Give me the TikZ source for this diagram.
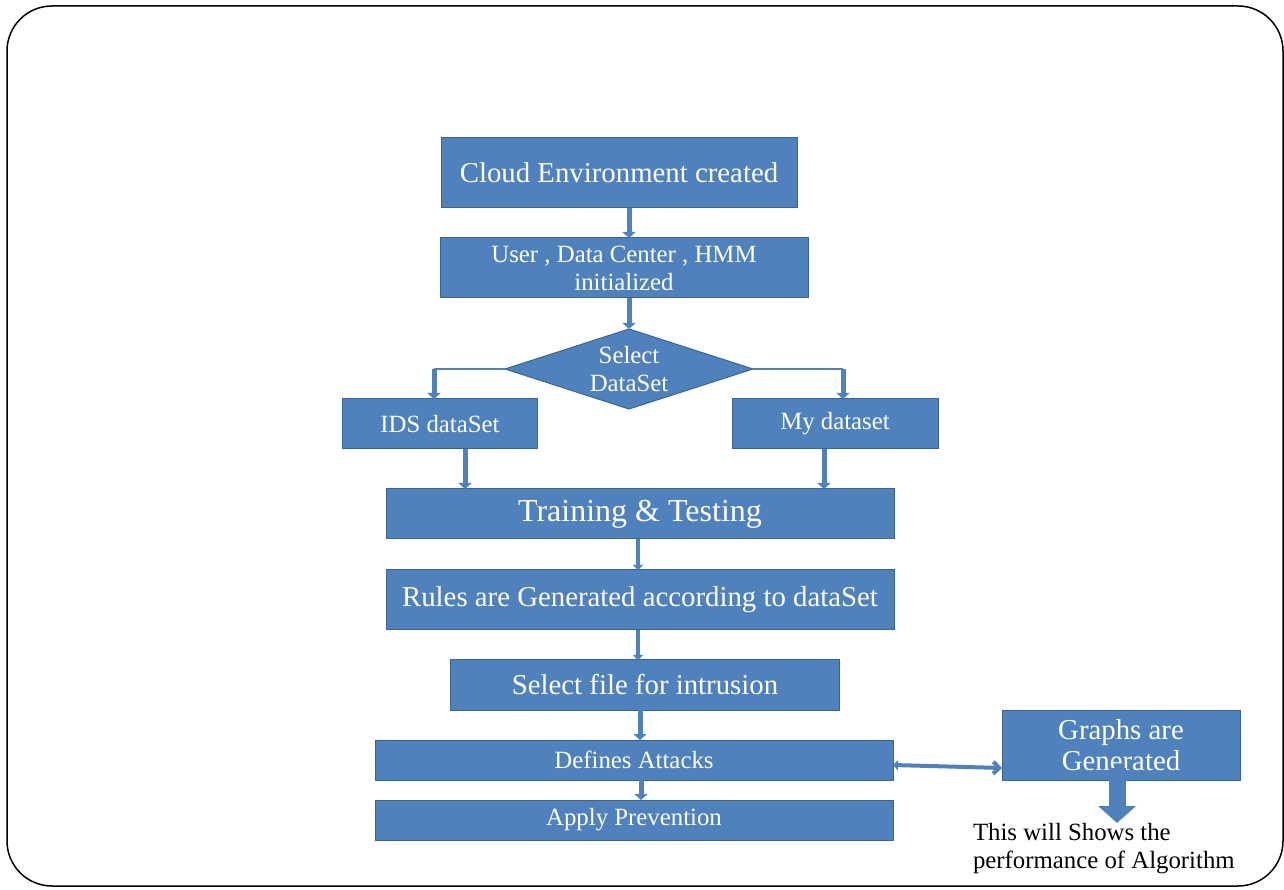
\documentclass[tikz,border=0pt]{standalone}
\usepackage{fontspec}
\setmainfont{Liberation Serif}
\usetikzlibrary{positioning, shapes.geometric, arrows.meta}

\definecolor{boxfill}{HTML}{4F81BD}
\definecolor{boxline}{HTML}{3A6494}

\tikzset{
	box/.style={draw=boxline, line width=1pt, fill=boxfill, text=white, inner sep=0pt, outer sep=0pt, align=center},
	small/.style={font=\fontsize{24.8}{28}\selectfont},
	medium/.style={font=\fontsize{28.8}{31}\selectfont},
	flow/.style={draw=boxfill, line width=5pt, -{Triangle[length=6pt,width=13pt]}},
	thinflow/.style={draw=boxfill, line width=3.5pt, -{Triangle[length=5pt,width=10pt]}},
	bigflow/.style={draw=boxfill, line width=17pt, -{Triangle[length=17pt,width=37pt]}},
	link/.style={draw=boxfill, line width=1.5pt}
}

\begin{document}
\begin{tikzpicture}[x=1pt, y=1pt]
		  \useasboundingbox (0,0) rectangle (1284,889);
		  \draw[line width=1.5pt, rounded corners=45pt] (7,3) rectangle (1283,883);

          \node (1) [box, medium, minimum width=356pt, minimum height=70pt] at (619,716) {Cloud Environment created};
          \node (2) [box, small, minimum width=368pt, minimum height=60pt, below=30pt of 1, xshift=5pt] {User , Data Center , HMM\\initialized};
          \node (3) [box, small, diamond, aspect=3.1, minimum width=248pt, minimum height=80pt, below=31pt of 2, xshift=5pt] {Select\\DataSet};
          \node (4) [box, small, minimum width=195pt, minimum height=50pt, below=-10pt of 3, xshift=-189pt] {IDS dataSet};
          \node (5) [box, small, minimum width=206pt, minimum height=50pt, below=-10pt of 3, xshift=206pt] {My dataset};
          \node (6) [box, font=\fontsize{32}{36}\selectfont, minimum width=508pt, minimum height=50pt, below=80pt of 3, xshift=11pt] {Training \& Testing};
          \node (7) [box, medium, minimum width=508pt, minimum height=60pt, below=31pt of 6] {Rules are Generated according to dataSet};
          \node (8) [box, medium, minimum width=389pt, minimum height=50pt, below=30pt of 7, xshift=5pt] {Select file for intrusion};
		  \node (9) [box, small, minimum width=518pt, minimum height=40pt, below=30pt of 8, xshift=-11pt] {Defines Attacks};
		  \node (10) [box, small, minimum width=518pt, minimum height=40pt, below=20pt of 9] {Apply Prevention};
		  \node (11) [box, medium, minimum width=238pt, minimum height=70pt, right=109pt of 9, yshift=15pt] {Graphs are\\Generated};
		  \node (12) [small, align=left, inner sep=0pt, outer sep=0pt, below right=43pt and -29pt of 11.south west] {This will Shows the\\performance of Algorithm};

		  \coordinate (a) at ([xshift=-6pt]4.north);
		  \coordinate (b) at ([xshift=8pt]5.north);

		  \path[every edge/.style=flow]
			([xshift=10pt]1.south) edge ([xshift=5pt]2.north)
			([xshift=5pt]2.south) edge (3.north)
			(3.west -| a) edge (a)
			(3.east -| b) edge (b)
			([xshift=25pt]4.south) edge ([xshift=25pt]4.south |- 6.north)
			([xshift=-11pt]5.south) edge ([xshift=-11pt]5.south |- 6.north)
			([xshift=-5pt]8.south) edge ([xshift=6pt]9.north)
			([xshift=7pt,yshift=-10pt]9.center) edge ([xshift=7pt]10.north);
		  \path[every edge/.style=thinflow]
			([xshift=-2pt]6.south) edge ([xshift=-2pt]7.north)
			([xshift=-2pt]7.south) edge ([xshift=-7pt]8.north);
		  \path[every edge/.style=link]
			(3.west) edge (3.west -| a)
			(3.east) edge (3.east -| b);

		  \draw[draw=boxfill, line width=4pt, {Triangle[length=5pt,width=10pt]}-{Straight Barb[length=6pt,width=12pt]}]
			([yshift=-5pt]9.east) -- ([yshift=-23pt]11.west);
		  \draw[bigflow] ([xshift=-4pt,yshift=-23pt]11.center) -- ([xshift=-4pt]11.center |- 12.north);

        \end{tikzpicture}
\end{document}
